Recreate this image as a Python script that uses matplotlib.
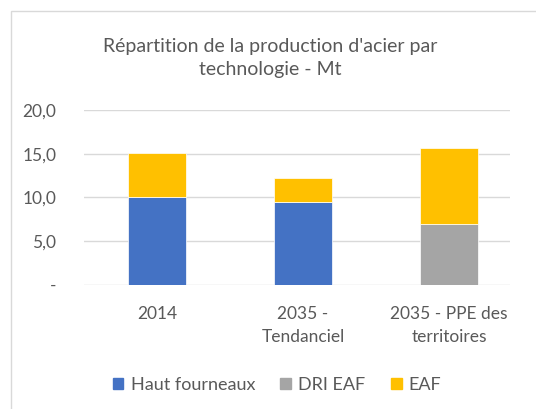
import numpy as np
import matplotlib.pyplot as plt
from matplotlib.patches import Rectangle, Patch
from matplotlib.ticker import FuncFormatter

plt.rcParams['font.family'] = ['Lato', 'DejaVu Sans']

categories = ['2014', '2035 -\nTendanciel', '2035 - PPE des\nterritoires']
haut_fourneaux = [10.0, 9.5, 0.0]
dri_eaf = [0.0, 0.0, 6.9]
eaf = [5.1, 2.7, 8.8]
series_names = ['Haut fourneaux', 'DRI EAF', 'EAF']
colors = ['#4472C4', '#A5A5A5', '#FFC000']
text_col = '#595959'

fig = plt.figure(figsize=(5.36, 4.09), dpi=100)
# cadre du graphique
fig.patches.append(Rectangle((11 / 536, -0.1), 1.2, 1 - 11 / 409 + 0.1,
                             transform=fig.transFigure, fill=False,
                             edgecolor='#D9D9D9', linewidth=1))

ax = fig.add_axes([84 / 536, 1 - 284.7 / 409, 426 / 536, 174.7 / 409])
x = np.arange(len(categories))
w = 0.4
bottom = np.zeros(len(categories))
for vals, name, c in zip([haut_fourneaux, dri_eaf, eaf], series_names, colors):
    ax.bar(x, vals, w, bottom=bottom, color=c, label=name,
           edgecolor='white', linewidth=0.5)
    bottom += np.array(vals)

ax.set_ylim(0, 20)
ax.set_xlim(-0.5, -0.5 + 426 / 146)
ax.set_yticks([0, 5, 10, 15, 20])
ax.yaxis.set_major_formatter(FuncFormatter(
    lambda v, p: '-' if v == 0 else f'{v:.1f}'.replace('.', ',')))
ax.set_xticks(x)
ax.set_xticklabels(categories, linespacing=1.6)
ax.tick_params(axis='both', length=0, labelsize=12.5, colors=text_col)
ax.tick_params(axis='x', pad=15)
ax.tick_params(axis='y', pad=20)
ax.grid(axis='y', color='#D9D9D9', linewidth=1)
ax.set_axisbelow(True)
for s in ax.spines.values():
    s.set_visible(False)

fig.text(270 / 536, 1 - 58 / 409,
         "Répartition de la production d'acier par\ntechnologie - Mt",
         ha='center', va='center', fontsize=14, color=text_col, linespacing=1.45)

handles = [Patch(color=c) for c in colors]
fig.legend(handles, series_names, loc='center', bbox_to_anchor=(277 / 536, 1 - 385 / 409),
           ncol=3, frameon=False, fontsize=13, handlelength=0.6, handleheight=0.6,
           handletextpad=0.4, columnspacing=1.4, labelcolor=text_col)

fig.savefig('out.png', dpi=100)
